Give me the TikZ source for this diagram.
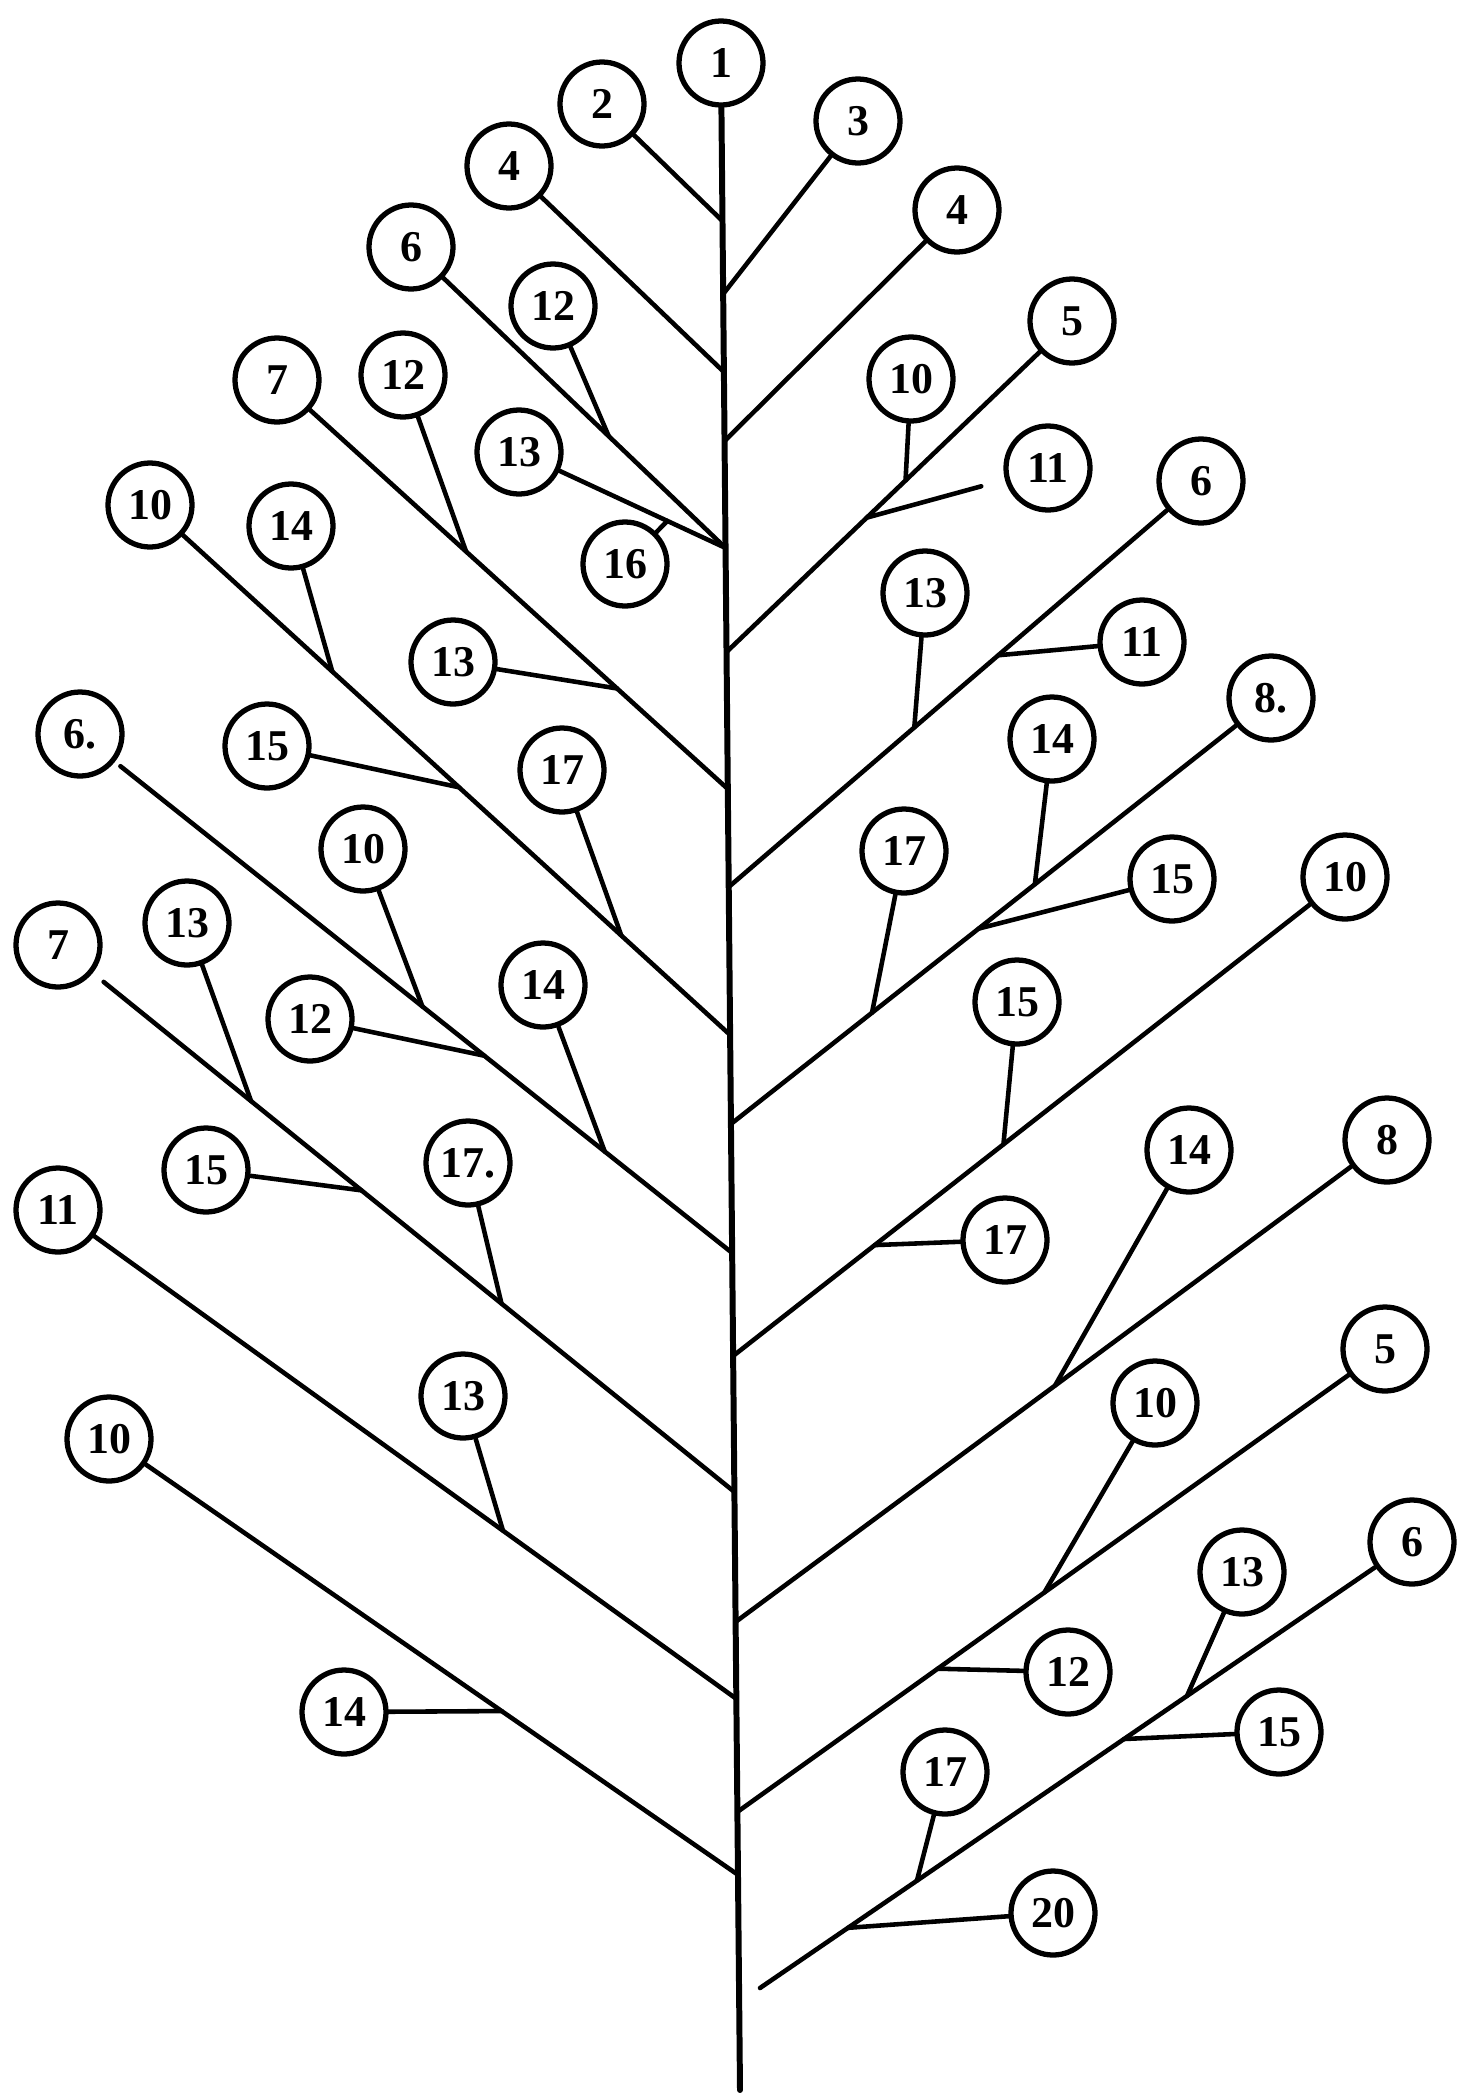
\documentclass[tikz,border=0pt]{standalone}
\usepackage{fontspec}
\setmainfont{Liberation Serif}
\usetikzlibrary{positioning,calc}

\begin{document}
\begin{tikzpicture}[
  x=0.1mm, y=-0.1mm,
  leaf/.style={circle, draw, line width=1.5pt, minimum size=8.4mm, inner sep=0pt,
               font=\fontsize{12.5}{12.5}\selectfont\bfseries},
  br/.style={line width=1.3pt, line cap=round},
  stem/.style={line width=1.7pt, line cap=round},
]
  \useasboundingbox (0,0) rectangle (1459,2093);

  %=================== main stem ===================
  \node[leaf] (c1) at (721,63) {1};
  \coordinate (bot) at (740,2090);
  \draw[stem] (c1) -- (bot);

  %=================== left leaves ===================
  \node[leaf] (c2)   at (602,104)  {2};
  \node[leaf] (c4l)  at (509,166)  {4};
  \node[leaf] (c6l)  at (411,247)  {6};
  \node[leaf] (c12a) at (553,306)  {12};
  \node[leaf] (c13a) at (519,452)  {13};
  \node[leaf] (c16)  at (625,564)  {16};
  \node[leaf] (c7l)  at (277,380)  {7};
  \node[leaf] (c12b) at (403,375)  {12};
  \node[leaf] (c13b) at (453,662)  {13};
  \node[leaf] (c10l) at (150,505)  {10};
  \node[leaf] (c14a) at (291,526)  {14};
  \node[leaf] (c15a) at (267,746)  {15};
  \node[leaf] (c17a) at (562,770)  {17};
  \node[leaf] (c6m)  at (80,734)   {6.};
  \node[leaf] (c10a) at (363,849)  {10};
  \node[leaf] (c12c) at (310,1019) {12};
  \node[leaf] (c14b) at (543,985)  {14};
  \node[leaf] (c7m)  at (58,945)   {7};
  \node[leaf] (c13c) at (187,923)  {13};
  \node[leaf] (c15b) at (206,1170) {15};
  \node[leaf] (c17b) at (468,1163) {17.};
  \node[leaf] (c11l) at (58,1210)  {11};
  \node[leaf] (c13d) at (463,1396) {13};
  \node[leaf] (c10m) at (109,1439) {10};
  \node[leaf] (c14c) at (344,1712) {14};

  %=================== right leaves ===================
  \node[leaf] (c3)    at (858,121)   {3};
  \node[leaf] (c4r)   at (957,210)   {4};
  \node[leaf] (c5r)   at (1072,321)  {5};
  \node[leaf] (c10r1) at (911,379)   {10};
  \node[leaf] (c11r1) at (1048,468)  {11};
  \node[leaf] (c6r)   at (1201,481)  {6};
  \node[leaf] (c11r2) at (1142,642)  {11};
  \node[leaf] (c13r1) at (925,593)   {13};
  \node[leaf] (c8r)   at (1271,698)  {8.};
  \node[leaf] (c14r1) at (1052,739)  {14};
  \node[leaf] (c15r1) at (1172,879)  {15};
  \node[leaf] (c17r1) at (904,851)   {17};
  \node[leaf] (c10r)  at (1345,877)  {10};
  \node[leaf] (c15r2) at (1017,1002) {15};
  \node[leaf] (c17r2) at (1005,1240) {17};
  \node[leaf] (c8s)   at (1387,1140) {8};
  \node[leaf] (c14r2) at (1189,1150) {14};
  \node[leaf] (c5s)   at (1385,1349) {5};
  \node[leaf] (c10r2) at (1155,1403) {10};
  \node[leaf] (c12r)  at (1068,1672) {12};
  \node[leaf] (c6s)   at (1412,1542) {6};
  \node[leaf] (c13r2) at (1242,1572) {13};
  \node[leaf] (c15r3) at (1279,1732) {15};
  \node[leaf] (c17r3) at (945,1772)  {17};
  \node[leaf] (c20)   at (1053,1913) {20};

  %=================== joints on the stem ===================
  \coordinate (j2)   at ($(c1)!(721,221)!(bot)$);
  \coordinate (j4l)  at ($(c1)!(722,372)!(bot)$);
  \coordinate (j6l)  at ($(c1)!(724,548)!(bot)$);
  \coordinate (j7l)  at ($(c1)!(727,789)!(bot)$);
  \coordinate (j10l) at ($(c1)!(729,1035)!(bot)$);
  \coordinate (j6m)  at ($(c1)!(732,1253)!(bot)$);
  \coordinate (j7m)  at ($(c1)!(732,1492)!(bot)$);
  \coordinate (j11l) at ($(c1)!(732,1699)!(bot)$);
  \coordinate (j10m) at ($(c1)!(732,1875)!(bot)$);
  \coordinate (j3)   at ($(c1)!(728,294)!(bot)$);
  \coordinate (j4r)  at ($(c1)!(730,441)!(bot)$);
  \coordinate (j5r)  at ($(c1)!(729,652)!(bot)$);
  \coordinate (j6r)  at ($(c1)!(732,887)!(bot)$);
  \coordinate (j8r)  at ($(c1)!(738,1124)!(bot)$);
  \coordinate (j10r) at ($(c1)!(739,1356)!(bot)$);
  \coordinate (j8s)  at ($(c1)!(739,1622)!(bot)$);
  \coordinate (j5s)  at ($(c1)!(741,1812)!(bot)$);
  \coordinate (e6s)  at (760,1988);

  %=================== main branches ===================
  \draw[br] (c2) -- (j2);
  \draw[br] (c4l) -- (j4l);
  \draw[br] (c6l) -- (j6l);
  \draw[br] (c7l) -- (j7l);
  \draw[br] (c10l) -- (j10l);
  \draw[br, shorten <=2pt] (c6m) -- (j6m);
  \draw[br, shorten <=4pt] (c7m) -- (j7m);
  \draw[br] (c11l) -- (j11l);
  \draw[br] (c10m) -- (j10m);
  \draw[br] (c3) -- (j3);
  \draw[br] (c4r) -- (j4r);
  \draw[br] (c5r) -- (j5r);
  \draw[br] (c6r) -- (j6r);
  \draw[br] (c8r) -- (j8r);
  \draw[br] (c10r) -- (j10r);
  \draw[br] (c8s) -- (j8s);
  \draw[br] (c5s) -- (j5s);
  \draw[br] (c6s) -- (e6s);

  %=================== side twigs, left ===================
  \coordinate (k12a) at ($(c6l)!(606,439)!(j6l)$);
  \draw[br] (c12a) -- (k12a);
  \draw[br] (c13a) -- (j6l);
  \coordinate (k16) at ($(c13a)!(666,524)!(j6l)$);
  \draw[br] (c16) -- (k16);
  \coordinate (k12b) at ($(c7l)!(463,555)!(j7l)$);
  \draw[br] (c12b) -- (k12b);
  \coordinate (k13b) at ($(c7l)!(613,693)!(j7l)$);
  \draw[br] (c13b) -- (k13b);
  \coordinate (k14a) at ($(c10l)!(330,674)!(j10l)$);
  \draw[br] (c14a) -- (k14a);
  \coordinate (k15a) at ($(c10l)!(453,794)!(j10l)$);
  \draw[br] (c15a) -- (k15a);
  \coordinate (k17a) at ($(c10l)!(620,937)!(j10l)$);
  \draw[br] (c17a) -- (k17a);
  \coordinate (k10a) at ($(c6m)!(426,1002)!(j6m)$);
  \draw[br] (c10a) -- (k10a);
  \coordinate (k12c) at ($(c6m)!(485,1055)!(j6m)$);
  \draw[br] (c12c) -- (k12c);
  \coordinate (k14b) at ($(c6m)!(606,1150)!(j6m)$);
  \draw[br] (c14b) -- (k14b);
  \coordinate (k13c) at ($(c7m)!(252,1100)!(j7m)$);
  \draw[br] (c13c) -- (k13c);
  \coordinate (k15b) at ($(c7m)!(361,1191)!(j7m)$);
  \draw[br] (c15b) -- (k15b);
  \coordinate (k17b) at ($(c7m)!(502,1303)!(j7m)$);
  \draw[br] (c17b) -- (k17b);
  \coordinate (k13d) at ($(c11l)!(502,1532)!(j11l)$);
  \draw[br] (c13d) -- (k13d);
  \coordinate (k14c) at ($(c10m)!(499,1715)!(j10m)$);
  \draw[br] (c14c) -- (k14c);

  %=================== side twigs, right ===================
  \coordinate (k10r1) at ($(c5r)!(906,481)!(j5r)$);
  \draw[br] (c10r1) -- (k10r1);
  \coordinate (k11r1) at ($(c5r)!(868,519)!(j5r)$);
  \draw[br, shorten <=7pt] (c11r1) -- (k11r1);
  \coordinate (k11r2) at ($(c6r)!(998,655)!(j6r)$);
  \draw[br] (c11r2) -- (k11r2);
  \coordinate (k13r1) at ($(c6r)!(913,726)!(j6r)$);
  \draw[br] (c13r1) -- (k13r1);
  \coordinate (k14r1) at ($(c8r)!(1033,882)!(j8r)$);
  \draw[br] (c14r1) -- (k14r1);
  \coordinate (k15r1) at ($(c8r)!(982,933)!(j8r)$);
  \draw[br] (c15r1) -- (k15r1);
  \coordinate (k17r1) at ($(c8r)!(873,1014)!(j8r)$);
  \draw[br] (c17r1) -- (k17r1);
  \coordinate (k15r2) at ($(c10r)!(1000,1140)!(j10r)$);
  \draw[br] (c15r2) -- (k15r2);
  \coordinate (k17r2) at ($(c10r)!(877,1248)!(j10r)$);
  \draw[br] (c17r2) -- (k17r2);
  \coordinate (k14r2) at ($(c8s)!(1053,1383)!(j8s)$);
  \draw[br] (c14r2) -- (k14r2);
  \coordinate (k10r2) at ($(c5s)!(1044,1592)!(j5s)$);
  \draw[br] (c10r2) -- (k10r2);
  \coordinate (k12r) at ($(c5s)!(940,1672)!(j5s)$);
  \draw[br] (c12r) -- (k12r);
  \coordinate (k13r2) at ($(c6s)!(1189,1699)!(e6s)$);
  \draw[br] (c13r2) -- (k13r2);
  \coordinate (k15r3) at ($(c6s)!(1126,1742)!(e6s)$);
  \draw[br] (c15r3) -- (k15r3);
  \coordinate (k17r3) at ($(c6s)!(915,1878)!(e6s)$);
  \draw[br] (c17r3) -- (k17r3);
  \coordinate (k20) at ($(c6s)!(848,1928)!(e6s)$);
  \draw[br] (c20) -- (k20);
\end{tikzpicture}
\end{document}
